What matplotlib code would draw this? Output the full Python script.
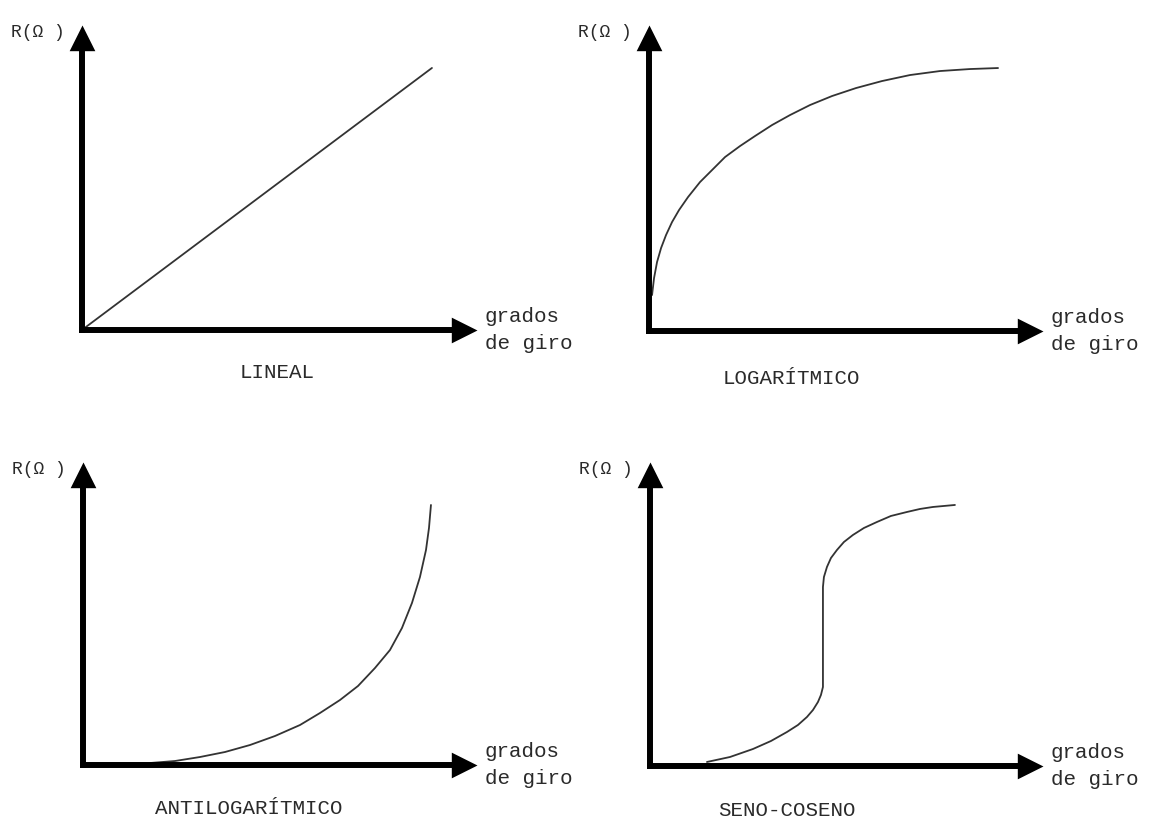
import numpy as np
import matplotlib.pyplot as plt

# Curvas de resistencia vs grados de giro (unidades relativas 0-100)
lin_x = [0, 88.6]
lin_y = [0, 85.9]

log_x = [0.76, 1.27, 2.03, 3.05, 4.31, 5.84, 7.61, 9.90, 12.94, 15.99, 19.29, 23.10,
         26.90, 31.22, 35.79, 40.86, 46.45, 52.54, 59.14, 66.24, 73.86, 81.47, 88.58]
log_y = [11.76, 17.32, 22.55, 27.12, 31.37, 35.62, 39.54, 43.79, 48.69, 52.61, 56.86, 60.46,
         63.73, 67.32, 70.59, 73.86, 76.80, 79.41, 81.70, 83.66, 84.97, 85.62, 85.95]

alog_x = [17.01, 23.35, 29.70, 36.04, 42.39, 48.73, 55.08, 60.15, 65.23, 69.80, 74.11,
          77.92, 80.96, 83.50, 85.53, 87.06, 87.82, 88.32]
alog_y = [0.66, 1.32, 2.64, 4.29, 6.60, 9.57, 13.20, 17.16, 21.45, 26.07, 32.01,
          37.95, 45.21, 53.47, 62.05, 70.96, 78.22, 85.81]

sc_x = [14.50, 20.36, 26.21, 30.79, 34.86, 37.66, 39.95, 41.48, 42.75, 43.51, 44.02, 44.02, 44.02,
        44.27, 45.04, 46.06, 47.58, 49.36, 51.65, 54.45, 57.76, 61.32, 65.39, 68.70, 72.01, 77.61]
sc_y = [1.32, 2.96, 5.59, 8.22, 11.18, 13.49, 16.12, 18.42, 21.05, 23.36, 25.99, 41.45, 58.88,
        62.17, 65.46, 68.42, 71.05, 73.68, 75.99, 78.29, 80.26, 82.24, 83.55, 84.54, 85.20, 85.86]

curvas = [(lin_x, lin_y), (log_x, log_y), (alog_x, alog_y), (sc_x, sc_y)]
titulos = ['LINEAL', 'LOGARÍTMICO', 'ANTILOGARÍTMICO', 'SENO-COSENO']

# posiciones de cada panel [left, bottom, width, height]
rects = [[0.0712, 0.5981, 0.3432, 0.3715],
         [0.5639, 0.5968, 0.3423, 0.3727],
         [0.0721, 0.0682, 0.3423, 0.3691],
         [0.5647, 0.0670, 0.3414, 0.3703]]
pos_titulo = [(0.494, -0.141), (0.36, -0.154), (0.42, -0.142), (0.349, -0.145)]

fuente = 'Liberation Mono'
gris = '#2a2a2a'

# puntas de flecha con el vertice en el origen del marcador
punta_up = [(0, 0), (-0.5, -1), (0.5, -1), (0, 0)]
punta_rt = [(0, 0), (-1, 0.5), (-1, -0.5), (0, 0)]

fig = plt.figure(figsize=(11.51, 8.21), dpi=100)

for i in range(4):
    ax = fig.add_axes(rects[i])
    cx, cy = curvas[i]
    ax.plot(cx, cy, '-', color='#333333', lw=1.3, solid_capstyle='round',
            solid_joinstyle='round')
    ax.set_xlim(0, 100)
    ax.set_ylim(0, 100)
    ax.set_xticks([])
    ax.set_yticks([])
    for s in ['top', 'right']:
        ax.spines[s].set_visible(False)
    for s in ['left', 'bottom']:
        ax.spines[s].set_linewidth(4.3)
        ax.spines[s].set_color('k')
        ax.spines[s].set_bounds(0, 94)
    # flechas de los ejes
    ax.plot([0], [100], marker=punta_up, ms=37, color='k', mew=0, clip_on=False)
    ax.plot([100], [0], marker=punta_rt, ms=37, color='k', mew=0, clip_on=False)

    ax.text(-0.043, 0.975, 'R(Ω )', transform=ax.transAxes, ha='right', va='center',
            fontsize=13, family=fuente, color=gris)
    ax.text(1.02, 0.0, 'grados\nde giro', transform=ax.transAxes, ha='left', va='center',
            fontsize=15, family=fuente, color=gris, linespacing=1.55)
    ax.text(pos_titulo[i][0], pos_titulo[i][1], titulos[i], transform=ax.transAxes,
            ha='center', va='center', fontsize=15, family=fuente, color=gris)

fig.savefig('out.png', dpi=100)
